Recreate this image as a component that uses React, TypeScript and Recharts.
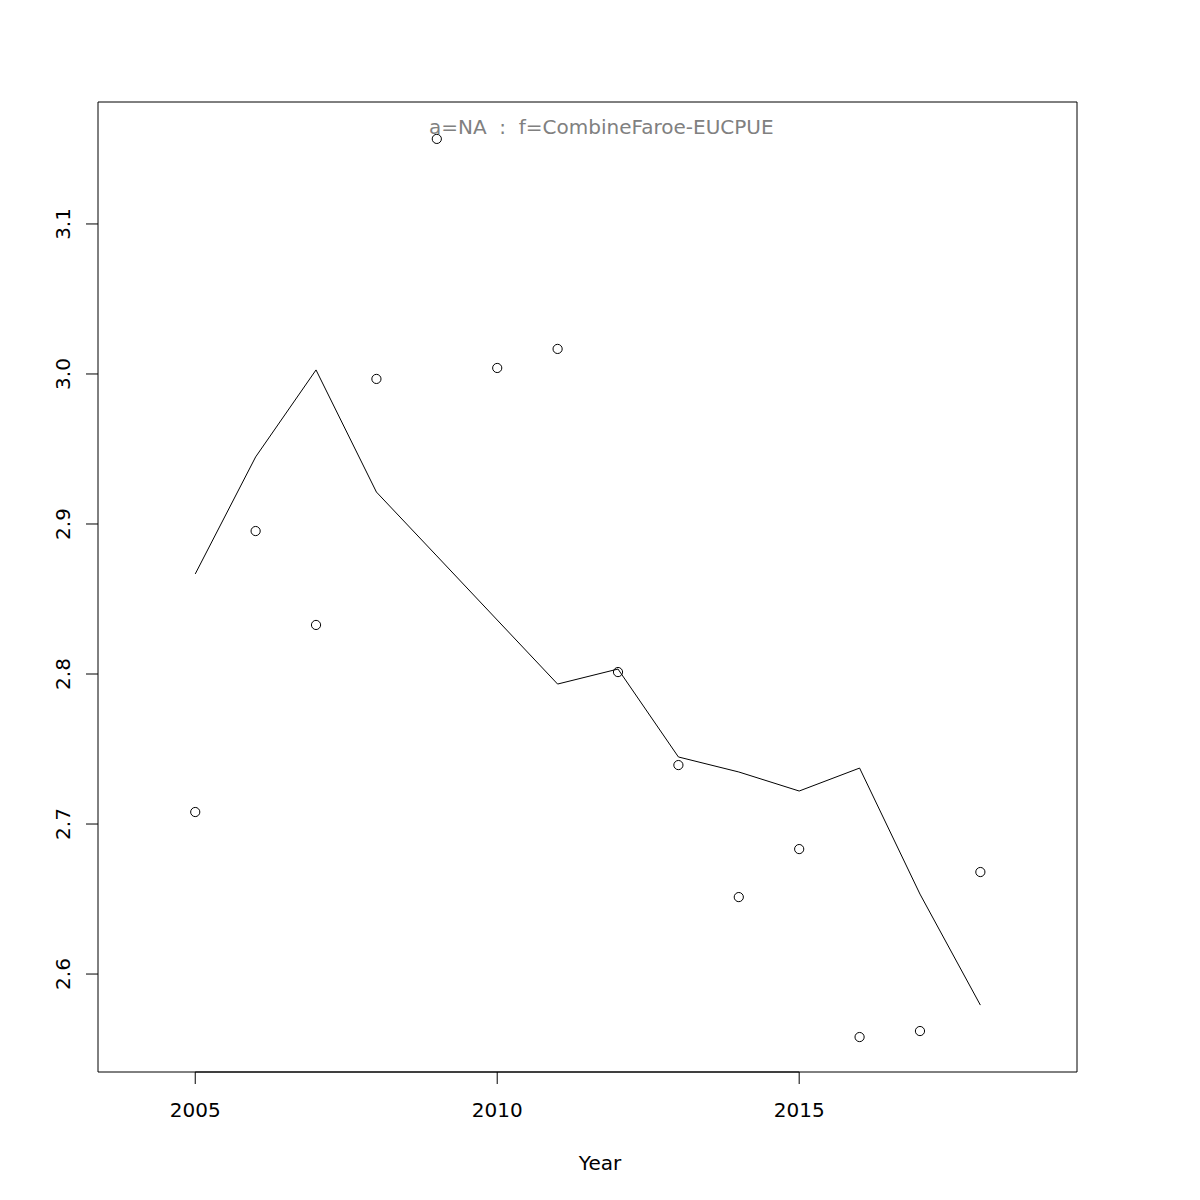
import React from 'react';
import { ComposedChart, Line, Scatter, XAxis, YAxis, ReferenceArea, ReferenceLine } from 'recharts';

const years = [2005, 2006, 2007, 2008, 2009, 2010, 2011, 2012, 2013, 2014, 2015, 2016, 2017, 2018];
const observed = [2.708, 2.8953, 2.8327, 2.9967, 3.1567, 3.004, 3.0167, 2.8013, 2.7393, 2.6513, 2.6833, 2.558, 2.562, 2.668];
const fitted = [2.8667, 2.9447, 3.0027, 2.9213, 2.8787, 2.836, 2.7933, 2.8033, 2.7447, 2.7347, 2.722, 2.7373, 2.6533, 2.5793];
const xTicks = [2005, 2010, 2015];
const yTicks = [2.6, 2.7, 2.8, 2.9, 3.0, 3.1];
const xDomain: [number, number] = [2003.39, 2019.6];
const yDomain: [number, number] = [2.5347, 3.1813];
const titleText = 'a=NA  :  f=CombineFaroe-EUCPUE';
const xLabel = 'Year';

const data = years.map((y, i) => ({ year: y, obs: observed[i], fit: fitted[i] }));

const FONT = '"DejaVu Sans", sans-serif';
const FS = 20;

const XTick = (props: any) => {
  const { x, y, payload } = props;
  return (
    <text x={x} y={y + 24} textAnchor="middle" dominantBaseline="central" fontFamily={FONT} fontSize={FS} fill="#000">
      {payload.value}
    </text>
  );
};

const YTick = (props: any) => {
  const { x, y, payload } = props;
  const cx = x - 21;
  return (
    <text x={cx} y={y} transform={`rotate(-90, ${cx}, ${y})`} textAnchor="middle" dominantBaseline="central" fontFamily={FONT} fontSize={FS} fill="#000">
      {Number(payload.value).toFixed(1)}
    </text>
  );
};

const Circle = (props: any) => {
  const { cx, cy } = props;
  if (cx == null || cy == null) return null;
  return <circle cx={cx} cy={cy} r={4.6} fill="none" stroke="#000" strokeWidth={1} />;
};

const XLabel = (props: any) => {
  const vb = props.viewBox || {};
  return (
    <text x={vb.x + vb.width / 2 + 12.5} y={vb.y + 91} textAnchor="middle" dominantBaseline="central" fontFamily={FONT} fontSize={FS} fill="#000">
      {xLabel}
    </text>
  );
};

export default function App() {
  return (
    <div style={{ position: 'absolute', left: 0, top: 0, width: 1200, height: 1200, background: '#fff' }}>
      <ComposedChart width={1200} height={1200} data={data} margin={{ top: 102, right: 123, left: 38, bottom: 28 }}>
        <XAxis
          dataKey="year"
          type="number"
          domain={xDomain}
          ticks={xTicks}
          allowDataOverflow
          axisLine={false}
          tickLine={{ stroke: '#000' }}
          tickSize={12}
          tickMargin={2}
          height={100}
          tick={<XTick />}
          label={<XLabel />}
        />
        <YAxis
          type="number"
          domain={yDomain}
          ticks={yTicks}
          allowDataOverflow
          axisLine={false}
          tickLine={{ stroke: '#000' }}
          tickSize={12}
          tickMargin={2}
          width={60}
          tick={<YTick />}
        />
        <ReferenceArea x1={xDomain[0]} x2={xDomain[1]} y1={yDomain[0]} y2={yDomain[1]} fill="none" stroke="#000" strokeWidth={1} ifOverflow="visible" />
        <ReferenceLine segment={[{ x: xTicks[0], y: yDomain[0] }, { x: xTicks[xTicks.length - 1], y: yDomain[0] }]} stroke="#000" strokeWidth={1} ifOverflow="visible" />
        <Line dataKey="fit" stroke="#000" strokeWidth={1} dot={false} activeDot={false} isAnimationActive={false} type="linear" />
        <Scatter dataKey="obs" shape={<Circle />} isAnimationActive={false} />
      </ComposedChart>
      <div
        style={{
          position: 'absolute',
          left: 429,
          top: 127,
          transform: 'translateY(-50%)',
          fontFamily: FONT,
          fontSize: FS,
          color: '#808080',
          whiteSpace: 'pre',
          lineHeight: 1,
        }}
      >
        {titleText}
      </div>
    </div>
  );
}
